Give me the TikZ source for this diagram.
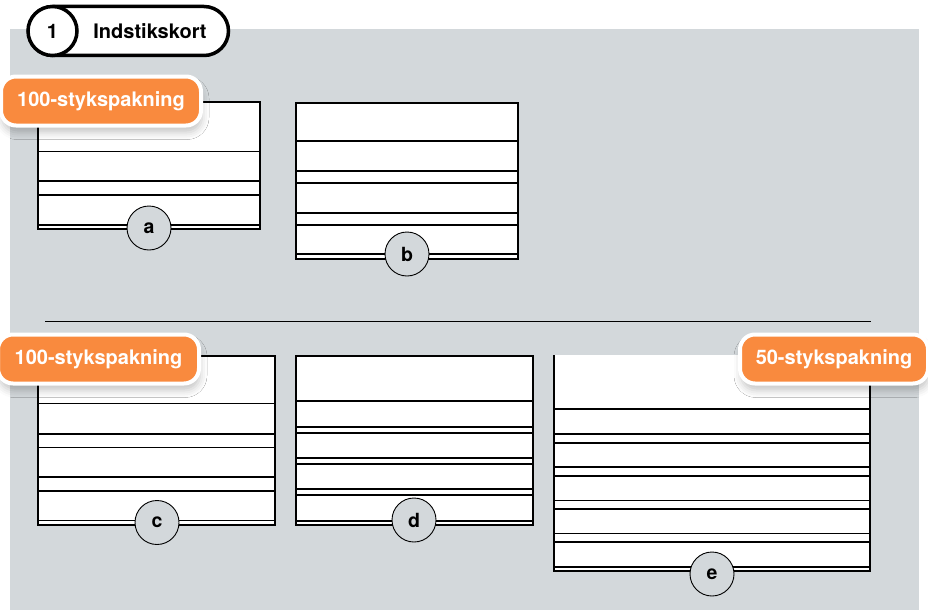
\documentclass[tikz,border=0pt]{standalone}
\usepackage{fontspec}
\setmainfont{TeX Gyre Heros}
\usetikzlibrary{shadows.blur}

\definecolor{panelgray}{HTML}{D3D8DB}
\definecolor{packorange}{HTML}{F98A3E}

\tikzset{
    card/.style={draw=black,line width=2pt,fill=white},
    slot/.style={line width=1.8pt},
    tag/.style={circle,draw=black,line width=0.9pt,fill=panelgray,
        minimum size=44pt,inner sep=0pt,font=\bfseries\fontsize{19.5}{22}\selectfont},
    pack/.style={rectangle,rounded corners=15pt,fill=packorange,draw=white,
        line width=4pt,minimum height=49pt,text=white,
        font=\bfseries\fontsize{20}{22}\selectfont,
        blur shadow={shadow xshift=1pt,shadow yshift=-7pt,shadow opacity=22,shadow blur radius=7pt}}
}

\begin{document}
\begin{tikzpicture}[x=1pt,y=-1pt]
    \useasboundingbox (0,0) rectangle (928,610);
    \fill[panelgray] (10,29) rectangle (919,610);

    % title
    \draw[line width=3.5pt,fill=white,rounded corners=24.5pt] (28.5,6.5) rectangle (228.5,55.5);
    \node[circle,draw=black,line width=3.5pt,fill=white,minimum size=49pt,inner sep=0pt,
        font=\bfseries\fontsize{20}{22}\selectfont] (num) at (52.5,31) {1};
    \node[font=\bfseries\fontsize{20}{22}\selectfont] (title) at (150,31) {Indstikskort};

    % top row
    \draw[card] (38,102) rectangle (260,229);
    \foreach \y in {151.5,181,195,225}
        \draw[slot] (38,\y) -- (260,\y);
    \node[tag] (a) at (149,228) {a};

    \draw[card] (296,102.5) rectangle (518,259);
    \foreach \y in {141,171,183,213,225,254}
        \draw[slot] (296,\y) -- (518,\y);
    \node[tag] (b) at (407,254) {b};

    \draw[line width=1pt] (45,321) -- (871,321);

    % bottom row
    \draw[card] (38,356) rectangle (275,524.5);
    \foreach \y in {403.5,434,447.5,477,491,520.5}
        \draw[slot] (38,\y) -- (275,\y);
    \node[tag] (c) at (157,522.5) {c};

    \draw[card] (296,356) rectangle (533,524.5);
    \foreach \y in {401,427,433,458,464,489,495,521}
        \draw[slot] (296,\y) -- (533,\y);
    \node[tag] (d) at (414,520) {d};

    \fill[white] (554,355) rectangle (870,571);
    \draw[line width=2pt] (554,355) -- (554,571) -- (870,571) -- (870,355);
    \foreach \y in {409,434,443,467,476,500.5,509,533.5,542,567}
        \draw[slot] (554,\y) -- (870,\y);
    \node[tag] (e) at (712,574) {e};

    % package labels
    \node[pack,minimum width=200pt] (pa) at (101,101) {100-stykspakning};
    \node[pack,minimum width=201pt] (pc) at (98.5,359) {100-stykspakning};
    \node[pack,minimum width=188pt] (pe) at (834,359) {50-stykspakning};
\end{tikzpicture}
\end{document}
